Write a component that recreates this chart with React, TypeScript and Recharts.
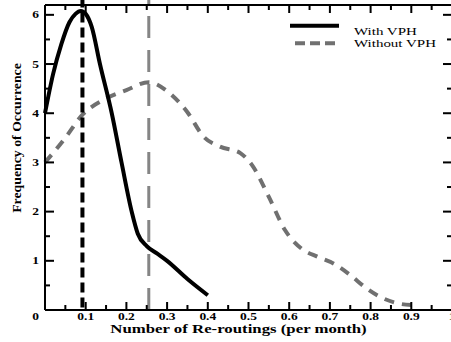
import { LineChart, Line, XAxis, YAxis, ReferenceLine } from "recharts";

// Number of re-routings (per month) -> frequency of occurrence
const withX = [0, 0.02, 0.04, 0.06, 0.075, 0.088, 0.1, 0.115, 0.135, 0.164, 0.188, 0.213, 0.228, 0.25, 0.275, 0.3, 0.35, 0.4];
const withY = [4.0, 4.8, 5.4, 5.85, 6.02, 6.08, 6.02, 5.75, 5.0, 4.0, 3.0, 2.0, 1.55, 1.3, 1.15, 1.0, 0.63, 0.3];

const withoutX = [0, 0.05, 0.09, 0.15, 0.2, 0.255, 0.3, 0.35, 0.39, 0.43, 0.48, 0.51, 0.55, 0.59, 0.63, 0.67, 0.71, 0.75, 0.79, 0.83, 0.87, 0.9];
const withoutY = [3.0, 3.5, 3.95, 4.3, 4.47, 4.63, 4.45, 4.02, 3.52, 3.32, 3.19, 2.93, 2.3, 1.62, 1.25, 1.08, 0.94, 0.71, 0.44, 0.24, 0.13, 0.1];

// means of the two distributions (vertical dashed markers)
const withMean = 0.092;
const withoutMean = 0.255;

const xTicks = [0, 0.05, 0.1, 0.15, 0.2, 0.25, 0.3, 0.35, 0.4, 0.45, 0.5, 0.55, 0.6, 0.65, 0.7, 0.75, 0.8, 0.85, 0.9, 0.95, 1];
const yTicks = [0, 0.5, 1, 1.5, 2, 2.5, 3, 3.5, 4, 4.5, 5, 5.5, 6];
const yMax = 6.2;

const seriesNames = ["With VPH", "Without VPH"];
const xTitle = "Number of Re-routings (per month)";
const yTitle = "Frequency of Occurrence";

const withData = withX.map((x, i) => ({ x, y: withY[i] }));
const withoutData = withoutX.map((x, i) => ({ x, y: withoutY[i] }));

const SERIF = "'Liberation Serif', 'DejaVu Serif', serif";
const SQ = 0.74; // the original figure is squashed vertically

const isMajorX = (v: number) => Math.abs(v * 10 - Math.round(v * 10)) < 1e-6;
const isMajorY = (v: number) => Math.abs(v - Math.round(v)) < 1e-6;

// tick marks point inward, majors longer than minors
function BottomTick(props: any) {
  const x = Number(props.x);
  const y = Number(props.y);
  const v = props.payload.value;
  const major = isMajorX(v);
  const len = major ? 8 : 5;
  return (
    <g>
      <rect x={x - 1} y={y - len} width={2} height={len} fill="#000" />
      {major && v > 0 && (
        <text
          transform={`translate(${x},320) scale(1,${SQ})`}
          textAnchor="middle"
          fontFamily={SERIF}
          fontWeight="bold"
          fontSize={13.5}
          fill="#000"
        >
          {v === 1 ? "1" : v.toFixed(1)}
        </text>
      )}
    </g>
  );
}

function TopTick(props: any) {
  const len = isMajorX(props.payload.value) ? 8 : 5;
  return <rect x={Number(props.x) - 1} y={Number(props.y)} width={2} height={len} fill="#000" />;
}

function LeftTick(props: any) {
  const x = Number(props.x);
  const y = Number(props.y);
  const v = props.payload.value;
  const major = isMajorY(v);
  const len = major ? 9 : 5;
  return (
    <g>
      <rect x={x} y={y - 1} width={len} height={2} fill="#000" />
      {major && (
        <text
          transform={`translate(${x - 6},${v === 0 ? 320 : y + 3.5}) scale(1,${SQ})`}
          textAnchor="end"
          fontFamily={SERIF}
          fontWeight="bold"
          fontSize={13.5}
          fill="#000"
        >
          {v}
        </text>
      )}
    </g>
  );
}

function RightTick(props: any) {
  const len = isMajorY(props.payload.value) ? 9 : 5;
  return <rect x={Number(props.x) - len} y={Number(props.y) - 1} width={len} height={2} fill="#000" />;
}

// titles and legend, drawn over the chart
function Overlay() {
  return (
    <svg width={451} height={342} style={{ position: "absolute", left: 0, top: 0, pointerEvents: "none" }}>
      <text
        transform="translate(21,138) rotate(-90) scale(1.15,1)"
        textAnchor="middle"
        fontFamily={SERIF}
        fontWeight="bold"
        fontSize={12}
        fill="#000"
      >
        {yTitle}
      </text>
      <text
        transform={`translate(238.5,333.3) scale(1,${SQ})`}
        textAnchor="middle"
        fontFamily={SERIF}
        fontWeight="bold"
        fontSize={16.8}
        fill="#000"
      >
        {xTitle}
      </text>
      <line x1={290} x2={339} y1={25.7} y2={25.7} stroke="#000" strokeWidth={4} />
      <line x1={295} x2={335} y1={43.3} y2={43.3} stroke="#707070" strokeWidth={4} strokeDasharray="10 5" />
      <text transform={`translate(354,35) scale(1,${SQ})`} fontFamily={SERIF} fontSize={15} fill="#000">
        {seriesNames[0]}
      </text>
      <text transform={`translate(354,46.7) scale(1,${SQ})`} fontFamily={SERIF} fontSize={15} fill="#000">
        {seriesNames[1]}
      </text>
    </svg>
  );
}

export default function App() {
  return (
    <div style={{ position: "absolute", left: 0, top: 0, width: 451, height: 342, overflow: "hidden", background: "#fff" }}>
      <LineChart width={462} height={342} margin={{ top: 0, right: 0, left: 0, bottom: 0 }}>
        <XAxis
          dataKey="x"
          type="number"
          domain={[0, 1]}
          ticks={xTicks}
          interval={0}
          height={32}
          tickSize={0}
          tickMargin={0}
          tickLine={false}
          axisLine={{ stroke: "#000", strokeWidth: 2 }}
          tick={<BottomTick />}
        />
        <XAxis
          xAxisId="top"
          orientation="top"
          dataKey="x"
          type="number"
          domain={[0, 1]}
          ticks={xTicks}
          interval={0}
          height={5}
          tickSize={0}
          tickMargin={0}
          tickLine={false}
          axisLine={{ stroke: "#000", strokeWidth: 2 }}
          tick={<TopTick />}
        />
        <YAxis
          type="number"
          domain={[0, yMax]}
          ticks={yTicks}
          interval={0}
          width={45}
          tickSize={0}
          tickMargin={0}
          tickLine={false}
          axisLine={{ stroke: "#000", strokeWidth: 2 }}
          tick={<LeftTick />}
        />
        <YAxis
          yAxisId="right"
          orientation="right"
          type="number"
          domain={[0, yMax]}
          ticks={yTicks}
          interval={0}
          width={10}
          tickSize={0}
          tickMargin={0}
          tickLine={false}
          axisLine={{ stroke: "#000", strokeWidth: 2 }}
          tick={<RightTick />}
        />
        {/* top frame edge */}
        <ReferenceLine y={yMax} stroke="#000" strokeWidth={2} ifOverflow="visible" />
        <ReferenceLine
          segment={[{ x: withoutMean, y: 0 }, { x: withoutMean, y: 6.3 }]}
          stroke="#858585"
          strokeWidth={3}
          strokeDasharray="22 12"
          ifOverflow="visible"
        />
        {/* invisible copy bound to the mirror axes so they get their ticks */}
        <Line
          data={withoutData}
          xAxisId="top"
          yAxisId="right"
          dataKey="y"
          stroke="none"
          dot={false}
          activeDot={false}
          legendType="none"
          isAnimationActive={false}
        />
        <Line
          data={withoutData}
          dataKey="y"
          name={seriesNames[1]}
          type="monotone"
          stroke="#707070"
          strokeWidth={4}
          strokeDasharray="10 8"
          dot={false}
          activeDot={false}
          isAnimationActive={false}
        />
        <Line
          data={withData}
          dataKey="y"
          name={seriesNames[0]}
          type="monotone"
          stroke="#000"
          strokeWidth={4}
          dot={false}
          activeDot={false}
          isAnimationActive={false}
        />
        <ReferenceLine
          segment={[{ x: withMean, y: 0.05 }, { x: withMean, y: 6.3 }]}
          stroke="#000"
          strokeWidth={4}
          strokeDasharray="10 5"
          ifOverflow="visible"
        />
      </LineChart>
      <Overlay />
    </div>
  );
}
